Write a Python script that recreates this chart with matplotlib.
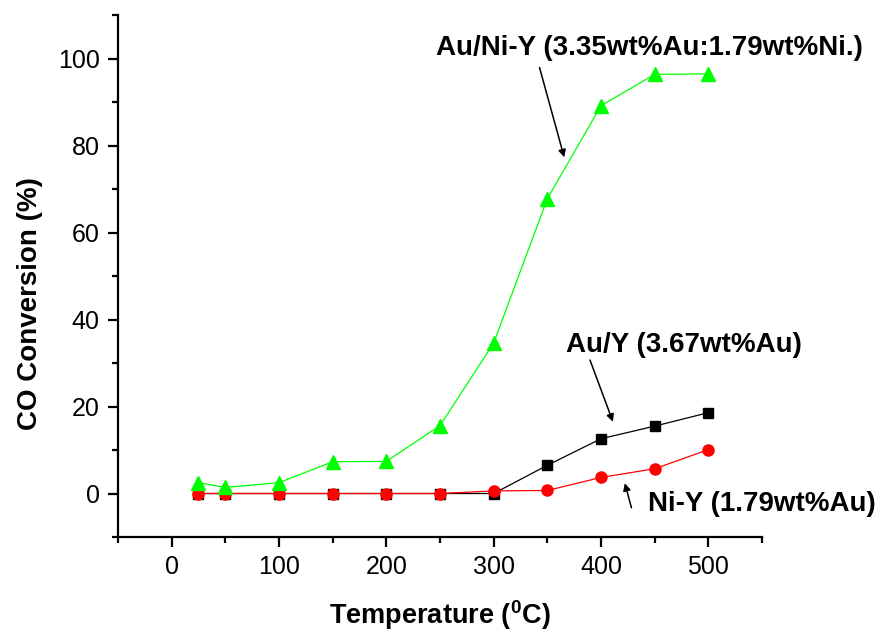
import matplotlib
matplotlib.use("Agg")
import matplotlib.pyplot as plt
from matplotlib.ticker import MultipleLocator

# CO conversion vs. temperature for three Y-zeolite catalysts
temps = [25, 50, 100, 150, 200, 250, 300, 350, 400, 450, 500]
au_ni_y = [2.5, 1.4, 2.5, 7.3, 7.4, 15.6, 34.6, 67.8, 89.2, 96.4, 96.5]
au_y = [0, 0, 0, 0, 0, 0, 0, 6.5, 12.6, 15.5, 18.6]
ni_y = [0, 0, 0, 0, 0, 0, 0.6, 0.7, 3.7, 5.7, 10.1]

plt.rcParams["font.family"] = ["Liberation Sans", "DejaVu Sans"]
plt.rcParams["mathtext.fontset"] = "custom"
plt.rcParams["mathtext.rm"] = "Liberation Sans"
plt.rcParams["mathtext.bf"] = "Liberation Sans:bold"

fig = plt.figure(figsize=(8.8, 6.34), dpi=100)
ax = fig.add_axes([0.134, 0.153, 0.732, 0.823])

ax.plot(temps, au_y, color="black", lw=0.9, marker="s", ms=7, zorder=3)
ax.plot(temps, ni_y, color="#ff0000", lw=0.9, marker="o", ms=8, zorder=4)
ax.plot(temps, au_ni_y, color="#00ff00", lw=0.9, marker="^", ms=10, zorder=5)

ax.set_xlim(-50, 550)
ax.set_ylim(-10, 110)
ax.xaxis.set_minor_locator(MultipleLocator(50))
ax.yaxis.set_minor_locator(MultipleLocator(10))
ax.set_xticks([0, 100, 200, 300, 400, 500])
ax.set_yticks([0, 20, 40, 60, 80, 100])

for side in ("top", "right"):
    ax.spines[side].set_visible(False)
for side in ("left", "bottom"):
    ax.spines[side].set_linewidth(1.6)
ax.tick_params(which="major", direction="out", length=7, width=1.6,
               labelsize=18, pad=6)
ax.tick_params(which="minor", direction="out", length=4, width=1.6)

ax.set_xlabel(r"Temperature ($\mathbf{^0}$C)", fontsize=19.5,
              fontweight="bold", labelpad=14)
ax.set_ylabel("CO Conversion (%)", fontsize=20, fontweight="bold")
ax.yaxis.set_label_coords(-0.116, 0.447)

arrow = dict(arrowstyle="-|>", color="black", lw=1.1, mutation_scale=11)
ax.text(445, 102.5, "Au/Ni-Y (3.35wt%Au:1.79wt%Ni.)", fontsize=20,
        fontweight="bold", ha="center", va="center")
ax.annotate("", xy=(366.4, 76.7), xytext=(342, 98.6), arrowprops=arrow)
ax.text(477.6, 34.1, "Au/Y (3.67wt%Au)", fontsize=20,
        fontweight="bold", ha="center", va="center")
ax.annotate("", xy=(412, 15.9), xytext=(388.8, 31.3), arrowprops=arrow)
ax.text(549.5, -2.5, "Ni-Y (1.79wt%Au)", fontsize=20,
        fontweight="bold", ha="center", va="center")
ax.annotate("", xy=(421.5, 3.0), xytext=(429, -3.9), arrowprops=arrow)

fig.savefig("out.png", dpi=100, facecolor="white")
